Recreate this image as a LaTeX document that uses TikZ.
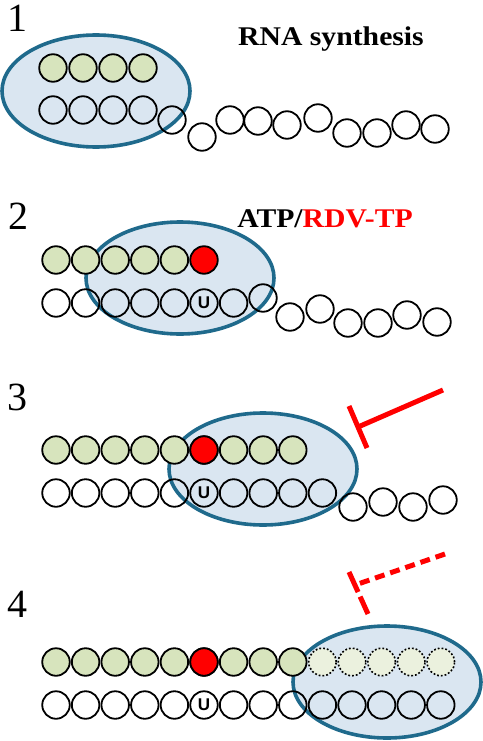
\documentclass[tikz,border=0pt]{standalone}
\usepackage{fontspec}
\setmainfont{Liberation Serif}
\setsansfont{Liberation Sans}
\usetikzlibrary{shapes.geometric}

\definecolor{polblue}{RGB}{31,106,140}
\definecolor{polfill}{RGB}{218,230,241}
\definecolor{ntgreen}{RGB}{215,228,189}
\definecolor{ghostgreen}{RGB}{235,241,222}

\tikzset{
  nt/.style={circle, draw=black, line width=1.8pt, minimum size=27.5pt, inner sep=0pt},
  np/.style={nt, fill=ntgreen},
  nred/.style={nt, fill=red},
  nghost/.style={nt, fill=ghostgreen, dotted, line width=1.6pt},
  pol/.style={ellipse, draw=polblue, fill=polfill, line width=3.6pt, minimum width=188pt, minimum height=112pt},
  num/.style={font=\fontsize{40}{40}\selectfont},
  title/.style={font=\fontsize{27}{27}\selectfont\bfseries, xscale=1.1},
  ulab/.style={font=\fontsize{17}{17}\selectfont\sffamily\bfseries},
  blk/.style={draw=red, line width=5pt},
}

\begin{document}
\begin{tikzpicture}[x=1pt, y=-1pt]
    \useasboundingbox (0,0) rectangle (482,741);

    % panel 1
    \node[num] (num1) at (17,18) {1};
    \node[title] (rna) at (331,39) {RNA synthesis};
    \node[pol] (pol1) at (96,91) {};
    \foreach \i in {0,...,3} {
        \node[np] (p1-\i) at (53+30*\i,68) {};
        \node[nt] (t1-\i) at (53+30*\i,110) {};
    }
    \foreach \x/\y [count=\k] in {172/120,202/137,230/120,258/121,287/125,318/118,347/133,377/133,406/125,435/129}
        \node[nt] (f1-\k) at (\x,\y) {};

    % panel 2
    \node[num] (num2) at (19,216) {2};
    \node[title] (atp) at (325,219) {ATP/\textcolor{red}{RDV-TP}};
    \node[pol] (pol2) at (180,278) {};
    \foreach \i in {0,...,4}
        \node[np] (p2-\i) at (56+29.6*\i,260) {};
    \node[nred] (p2-5) at (56+29.6*5,260) {};
    \foreach \i in {0,...,6}
        \node[nt] (t2-\i) at (56+29.6*\i,303) {};
    \node[ulab] (u2) at (t2-5) {U};
    \foreach \x/\y [count=\k] in {263/298,290/317,320/309,348/323,378/323,407/315,437/322}
        \node[nt] (f2-\k) at (\x,\y) {};

    % panel 3
    \node[num] (num3) at (18,397) {3};
    \node[pol] (pol3) at (263,469) {};
    \foreach \i in {0,...,8}
        \node[np] (p3-\i) at (56+29.6*\i,450) {};
    \node[nred] (p3-5) at (56+29.6*5,450) {};
    \foreach \i in {0,...,9}
        \node[nt] (t3-\i) at (56+29.6*\i,493) {};
    \node[ulab] (u3) at (t3-5) {U};
    \foreach \x/\y [count=\k] in {353/507,383/502,413/507,443/500}
        \node[nt] (f3-\k) at (\x,\y) {};
    \coordinate (stop3) at (443,390);
    \coordinate (bar3) at (358,427);
    \coordinate (bar3a) at (349,406);
    \coordinate (bar3b) at (367,448);
    \draw[blk] (stop3) -- (bar3);
    \draw[blk] (bar3a) -- (bar3b);

    % panel 4
    \node[num] (num4) at (18,604) {4};
    \node[pol] (pol4) at (387,682) {};
    \foreach \i in {0,...,8}
        \node[np] (p4-\i) at (56+29.6*\i,662) {};
    \node[nred] (p4-5) at (56+29.6*5,662) {};
    \foreach \i in {9,...,13}
        \node[nghost] (p4-\i) at (56+29.6*\i,662) {};
    \foreach \i in {0,...,13}
        \node[nt] (t4-\i) at (56+29.6*\i,705) {};
    \node[ulab] (u4) at (t4-5) {U};
    \coordinate (stop4) at (445,554);
    \coordinate (bar4) at (358,584);
    \coordinate (bar4a) at (349,572);
    \coordinate (bar4b) at (368,614);
    \draw[blk, dash pattern=on 10pt off 6pt] (stop4) -- (bar4);
    \draw[blk, dash pattern=on 22pt off 5pt] (bar4a) -- (bar4b);
\end{tikzpicture}
\end{document}
